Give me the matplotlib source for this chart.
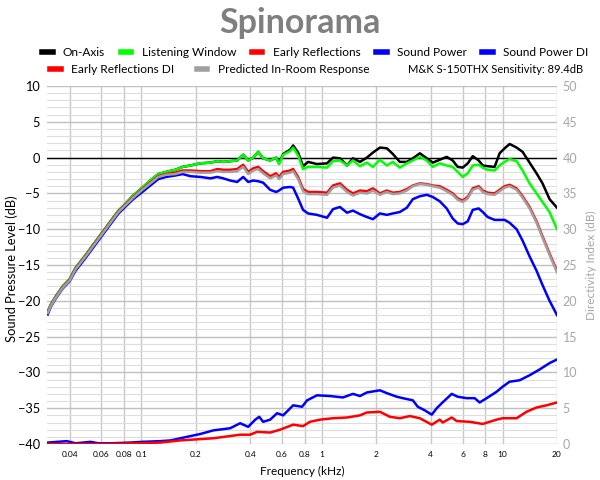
import numpy as np
import matplotlib
matplotlib.use("Agg")
import matplotlib.pyplot as plt
from matplotlib.lines import Line2D
from matplotlib.ticker import FixedLocator, NullLocator, MultipleLocator

plt.rcParams["font.family"] = ["Lato", "DejaVu Sans"]

# ---------- data (kHz, dB) ----------
freq = [0.0303, 0.0314, 0.0335, 0.0366, 0.040, 0.0432, 0.0491, 0.0543, 0.0601, 0.0674,
        0.0747, 0.0805, 0.0892, 0.100, 0.112, 0.124, 0.137, 0.154, 0.169, 0.187,
        0.212, 0.241, 0.263, 0.284, 0.310, 0.339, 0.366, 0.390, 0.416, 0.443,
        0.472, 0.516, 0.557, 0.578, 0.609, 0.666, 0.692, 0.737, 0.785, 0.837,
        0.938, 1.066, 1.15, 1.257, 1.375, 1.483, 1.622, 1.772, 1.913, 2.091,
        2.286, 2.467, 2.697, 2.948, 3.183, 3.479, 3.803, 4.104, 4.486, 4.90,
        5.29, 5.64, 6.01, 6.41, 6.83, 7.37, 7.76, 8.26, 9.03, 9.62,
        10.26, 10.93, 11.95, 12.90, 14.10, 15.41, 16.63, 18.19, 20.0]

on_axis = [-21.5, -20.6, -19.4, -18.0, -17.0, -15.4, -13.6, -12.1, -10.6, -8.9,
           -7.4, -6.6, -5.4, -4.3, -3.2, -2.3, -2.0, -1.7, -1.3, -1.1,
           -0.8, -0.7, -0.5, -0.6, -0.5, -0.4, 0.4, -0.4, 0.0, 0.8,
           -0.1, -0.4, 0.0, -0.8, 0.5, 1.1, 1.7, 0.7, -1.2, -0.6,
           -0.9, -0.8, 0.0, -0.1, -1.1, -0.1, -0.6, 0.0, 0.7, 1.4,
           1.3, 0.5, -0.6, -0.6, -0.1, 0.6, -0.1, -0.7, -0.3, 0.1,
           -0.4, -1.3, -1.4, -0.8, 0.2, -0.4, -1.1, -1.2, -1.3, 0.6,
           1.3, 1.9, 1.4, 0.8, -0.7, -2.2, -3.6, -5.8, -7.0]

listening = [-21.5, -20.6, -19.4, -18.0, -17.0, -15.4, -13.6, -12.1, -10.6, -8.9,
             -7.4, -6.6, -5.4, -4.3, -3.2, -2.3, -2.0, -1.7, -1.3, -1.1,
             -0.8, -0.7, -0.5, -0.6, -0.5, -0.4, 0.4, -0.4, 0.0, 0.8,
             -0.1, -0.4, 0.0, -0.9, 0.4, 0.9, 1.4, 0.3, -1.6, -1.3,
             -1.3, -1.4, -0.5, -0.4, -1.1, -0.4, -1.2, -0.7, -1.3, -0.3,
             -1.1, -0.6, -1.4, -0.8, -0.4, 0.1, -0.4, -1.3, -0.8, -1.1,
             -1.3, -2.0, -2.7, -2.2, -1.1, -1.0, -1.4, -1.7, -1.8, -1.1,
             -0.6, -0.2, -0.5, -1.8, -3.6, -5.0, -6.2, -7.6, -10.0]

early_refl = [-21.6, -20.7, -19.5, -18.1, -17.1, -15.5, -13.7, -12.2, -10.7, -9.0,
              -7.5, -6.7, -5.6, -4.5, -3.5, -2.6, -2.3, -2.1, -1.8, -1.8,
              -1.9, -1.9, -1.6, -1.7, -1.7, -1.6, -1.0, -2.0, -1.5, -1.3,
              -1.9, -2.6, -2.2, -2.7, -2.0, -1.8, -1.6, -2.7, -4.4, -4.8,
              -4.8, -4.9, -3.9, -3.6, -4.5, -5.0, -4.6, -4.7, -4.3, -5.0,
              -4.6, -4.9, -4.8, -4.4, -3.9, -3.6, -3.7, -3.9, -4.0, -4.5,
              -5.0, -5.7, -6.0, -5.5, -4.3, -4.0, -4.6, -4.9, -5.0, -4.5,
              -4.0, -3.8, -4.3, -5.4, -6.9, -8.9, -11.0, -13.4, -15.8]

sound_power = [-21.9, -20.9, -19.7, -18.3, -17.3, -15.8, -14.0, -12.5, -11.0, -9.3,
               -7.8, -7.0, -5.9, -4.9, -3.9, -3.0, -2.7, -2.5, -2.3, -2.6,
               -2.7, -2.9, -2.7, -2.9, -3.2, -3.4, -2.7, -3.4, -3.2, -3.3,
               -3.5, -4.5, -4.8, -4.6, -4.2, -4.1, -4.2, -5.7, -7.3, -7.8,
               -8.0, -8.4, -7.2, -6.9, -7.7, -7.4, -7.9, -8.3, -8.6, -7.8,
               -8.0, -7.8, -7.6, -7.0, -5.8, -5.4, -5.2, -5.5, -6.1, -7.1,
               -8.5, -9.2, -9.3, -8.9, -7.3, -7.1, -7.6, -8.3, -8.7, -8.7,
               -8.7, -9.1, -10.0, -11.6, -13.8, -15.8, -17.8, -20.0, -22.0]

pir = [-21.7, -20.8, -19.6, -18.2, -17.2, -15.6, -13.8, -12.3, -10.8, -9.1,
       -7.6, -6.8, -5.7, -4.6, -3.6, -2.7, -2.4, -2.3, -2.0, -2.0,
       -2.1, -2.1, -1.9, -2.0, -2.0, -1.9, -1.3, -2.3, -1.8, -1.6,
       -2.2, -2.9, -2.5, -3.0, -2.3, -2.1, -1.9, -3.0, -4.7, -5.1,
       -5.1, -5.2, -4.2, -3.9, -4.8, -5.3, -4.9, -5.0, -4.6, -5.2,
       -4.8, -5.1, -5.0, -4.6, -4.0, -3.7, -3.8, -4.0, -4.2, -4.7,
       -5.2, -5.9, -6.2, -5.7, -4.5, -4.2, -4.8, -5.1, -5.2, -4.7,
       -4.2, -4.0, -4.5, -5.6, -7.1, -9.1, -11.2, -13.6, -16.0]

# directivity indices (right axis)
spdi_freq = [0.0303, 0.0386, 0.0432, 0.0523, 0.0578, 0.0674, 0.0869, 0.1013, 0.127, 0.145,
             0.164, 0.212, 0.250, 0.310, 0.352, 0.390, 0.427, 0.449, 0.472, 0.516,
             0.564, 0.609, 0.692, 0.775, 0.827, 0.938, 1.107, 1.306, 1.483, 1.622,
             1.772, 2.091, 2.286, 2.596, 2.802, 3.183, 3.390, 3.707, 4.052, 4.318,
             4.603, 5.227, 5.64, 6.324, 7.0, 7.46, 8.16, 9.26, 10.0, 10.93,
             12.41, 14.1, 16.0, 18.19, 20.0]
spdi = [0.2, 0.4, 0.1, 0.3, 0.1, 0.1, 0.2, 0.3, 0.4, 0.5,
        0.8, 1.4, 1.9, 2.2, 2.9, 2.4, 3.4, 3.8, 3.1, 3.4,
        4.3, 4.0, 5.4, 5.2, 6.1, 6.8, 6.7, 6.5, 7.0, 6.7,
        7.2, 7.5, 7.1, 6.6, 6.4, 6.1, 5.2, 4.7, 4.1, 5.0,
        5.7, 7.0, 6.6, 6.4, 6.4, 5.8, 6.4, 7.3, 8.0, 8.7,
        8.9, 9.6, 10.4, 11.3, 11.8]

erdi_freq = [0.0303, 0.0593, 0.0987, 0.127, 0.164, 0.250, 0.352, 0.400, 0.437, 0.516,
             0.586, 0.692, 0.785, 0.858, 0.975, 1.15, 1.375, 1.622, 1.772, 2.091,
             2.375, 2.697, 3.064, 3.479, 4.052, 4.486, 4.66, 5.227, 5.57, 6.57,
             7.76, 9.26, 10.0, 11.95, 13.57, 15.41, 17.5, 20.0]
erdi = [0.0, 0.0, 0.1, 0.2, 0.5, 0.8, 1.3, 1.3, 1.7, 1.6,
        2.0, 2.7, 2.5, 3.1, 3.4, 3.6, 3.7, 4.0, 4.4, 4.5,
        3.8, 3.6, 3.9, 3.6, 2.7, 3.4, 3.0, 3.7, 3.2, 3.1,
        2.8, 3.4, 3.6, 3.6, 4.5, 5.1, 5.4, 5.8]

xticks = [0.04, 0.06, 0.08, 0.1, 0.2, 0.4, 0.6, 0.8, 1, 2, 4, 6, 8, 10, 20]
xtick_labels = ["0.04", "0.06", "0.08", "0.1", "0.2", "0.4", "0.6", "0.8",
                "1", "2", "4", "6", "8", "10", "20"]

# ---------- plot ----------
fig = plt.figure(figsize=(6, 4.8), dpi=100)
ax = fig.add_axes([47 / 600, 36 / 480, 510 / 600, 358 / 480])
ax2 = ax.twinx()

LW = 1.8
ax.plot(freq, on_axis, color="black", lw=LW, zorder=3)
ax.plot(freq, listening, color="#00ff00", lw=LW, zorder=4)
ax.plot(freq, early_refl, color="#ff0000", lw=LW, zorder=5)
ax.plot(freq, sound_power, color="#0000ff", lw=LW, zorder=5)
ax.plot(freq, pir, color="#a0a0a0", lw=LW, zorder=6)
ax.axhline(0, color="black", lw=1, zorder=2)

ax2.plot(spdi_freq, spdi, color="#0000ff", lw=LW)
ax2.plot(erdi_freq, erdi, color="#ff0000", lw=LW)

ax.set_xscale("log")
ax.set_xlim(0.03, 20)
ax.set_ylim(-40, 10)
ax2.set_ylim(0, 50)

ax.xaxis.set_major_locator(FixedLocator(xticks))
ax.xaxis.set_minor_locator(NullLocator())
ax.set_xticklabels(xtick_labels)
ax.yaxis.set_major_locator(MultipleLocator(5))
ax.yaxis.set_minor_locator(MultipleLocator(1))
ax2.yaxis.set_major_locator(MultipleLocator(5))

ax.grid(True, which="major", axis="x", color="#c8c8c8", lw=1)
ax.grid(True, which="major", axis="y", color="#c0c0c0", lw=1)
ax.grid(True, which="minor", axis="y", color="#dedede", lw=0.8)
ax.set_axisbelow(True)

for a in (ax, ax2):
    for s in a.spines.values():
        s.set_visible(False)
ax.tick_params(axis="both", which="both", length=0)
ax2.tick_params(axis="y", length=0, labelcolor="#a6a6a6", labelsize=9, pad=4)
ax.tick_params(axis="y", labelsize=9.2, pad=5)
ax.tick_params(axis="x", labelsize=6, pad=5)

ax.set_xlabel("Frequency (kHz)", fontsize=8.5, labelpad=6)
ax.set_ylabel("Sound Pressure Level (dB)", fontsize=9.3)
ax.yaxis.set_label_coords(-0.056, 0.49)
ax2.set_ylabel("Directivity Index (dB)", fontsize=8.5, color="#a6a6a6", labelpad=6)

fig.text(0.5, 0.953, "Spinorama", ha="center", va="center",
         fontsize=24.5, fontweight="bold", color="#7f7f7f")

# legend: two rows like the original
def h(c):
    return Line2D([], [], color=c, lw=4)

leg_kw = dict(frameon=False, fontsize=8.6, handlelength=0.9, handletextpad=0.85,
              columnspacing=1.3, borderpad=0, borderaxespad=0)
row1 = fig.legend([h("black"), h("#00ff00"), h("#ff0000"), h("#0000ff"), h("#0000ff")],
                  ["On-Axis", "Listening Window", "Early Reflections", "Sound Power", "Sound Power DI"],
                  loc="center left", bbox_to_anchor=(42 / 600, 0.891), ncol=5, **leg_kw)
row2 = fig.legend([h("#ff0000"), h("#a0a0a0")],
                  ["Early Reflections DI", "Predicted In-Room Response"],
                  loc="center left", bbox_to_anchor=(50 / 600, 0.855), ncol=2,
                  **dict(leg_kw, columnspacing=1.9))
fig.text(408 / 600, 0.855, "M&K S-150THX Sensitivity: 89.4dB", fontsize=8,
         ha="left", va="center")

fig.savefig("out.png", dpi=100)
